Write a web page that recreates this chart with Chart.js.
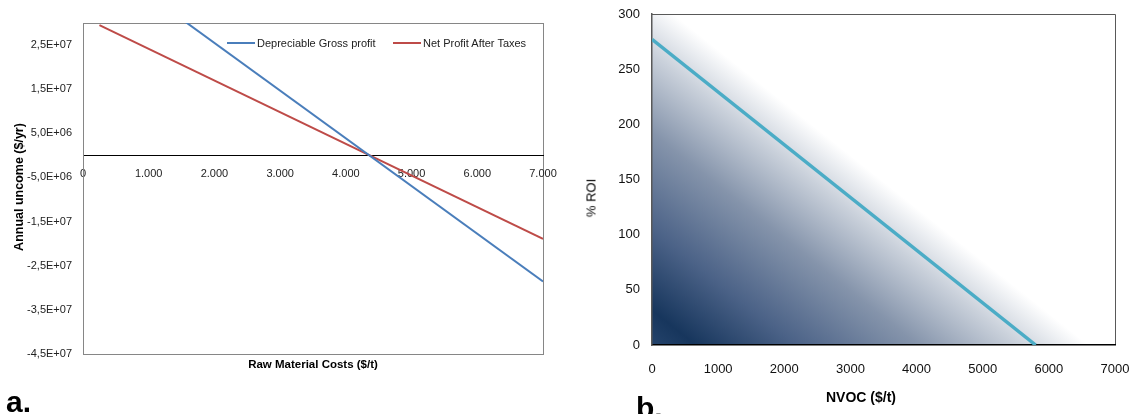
<!DOCTYPE html>
<html><head><meta charset="utf-8">
<script src="https://cdn.jsdelivr.net/npm/chart.js@4.4.1/dist/chart.umd.min.js"></script>
<style>
html,body{margin:0;padding:0;background:#fff;width:1131px;height:414px;overflow:hidden;position:relative;}
.box{position:absolute;}
.t{position:absolute;white-space:nowrap;color:#000;line-height:1;}
.rot{transform:translate(-50%,-50%) rotate(-90deg);}
.ctr{transform:translate(-50%,-50%);}
.leg{position:absolute;top:37px;height:13px;font:11px "Liberation Sans",sans-serif;color:#222;white-space:nowrap;}
.leg span.s{position:absolute;top:5px;height:2px;width:28px;}
</style></head><body>
<div class="box" style="left:0;top:0;width:560px;height:380px"><canvas id="ca"></canvas></div>
<div class="box" style="left:570px;top:0;width:561px;height:414px"><canvas id="cb"></canvas></div>

<div class="t rot" style="left:19px;top:187px;font:bold 12.5px 'Liberation Sans',sans-serif;">Annual uncome ($/yr)</div>
<div class="t ctr" style="left:313px;top:364px;font:bold 11.5px 'Liberation Sans',sans-serif;">Raw Material Costs ($/t)</div>
<div id="legendA"></div>
<div class="t rot" style="left:591px;top:198px;font:13px 'Liberation Sans',sans-serif;">% ROI</div>
<div class="t ctr" style="left:861px;top:397px;font:bold 14px 'Liberation Sans',sans-serif;">NVOC ($/t)</div>
<div class="t" style="left:6px;top:387px;font:bold 30px 'Liberation Sans',sans-serif;line-height:30px;">a.</div>
<div class="t" style="left:636px;top:393px;font:bold 30px 'Liberation Sans',sans-serif;line-height:30px;">b.</div>

<script>
// ---------- Chart a: annual income vs raw material cost ----------
const costX = [250, 7000];
const grossProfit = [4.44e7, -2.857e7];
const netProfit = [2.95e7, -1.893e7];
const seriesNamesA = ['Depreciable Gross profit', 'Net Profit After Taxes'];
const xTicksA = [0, 1000, 2000, 3000, 4000, 5000, 6000, 7000];
const xTickLabelsA = ['0', '1.000', '2.000', '3.000', '4.000', '5.000', '6.000', '7.000'];
const yTicksA = [-4.5e7, -3.5e7, -2.5e7, -1.5e7, -5e6, 5e6, 1.5e7, 2.5e7];
const yTickLabelsA = ['-4,5E+07', '-3,5E+07', '-2,5E+07', '-1,5E+07', '-5,0E+06', '5,0E+06', '1,5E+07', '2,5E+07'];

// ---------- Chart b: %ROI vs NVOC ----------
const nvocX = [0, 5800];
const roiY = [277, 0];
const xTicksB = [0, 1000, 2000, 3000, 4000, 5000, 6000, 7000];
const xTickLabelsB = ['0', '1000', '2000', '3000', '4000', '5000', '6000', '7000'];
const yTicksB = [0, 50, 100, 150, 200, 250, 300];
const yTickLabelsB = ['0', '50', '100', '150', '200', '250', '300'];

const pts = (xs, ys) => xs.map((x, i) => ({x: x, y: ys[i]}));
const FONT = "'Liberation Sans',sans-serif";

const frameA = {
  id: 'frameA',
  beforeDraw(chart) {
    const {ctx, chartArea: a} = chart;
    ctx.save();
    ctx.strokeStyle = '#868686';
    ctx.lineWidth = 1;
    ctx.strokeRect(Math.round(a.left) + 0.5, Math.round(a.top) + 0.5, Math.round(a.right - a.left), Math.round(a.bottom - a.top));
    ctx.restore();
  }
};

const colorsA = ['#4A7EBB', '#BE4B48'];
const chartA = new Chart(document.getElementById('ca'), {
  type: 'line',
  data: {
    datasets: [
      {label: seriesNamesA[0], data: pts(costX, grossProfit), borderColor: colorsA[0], backgroundColor: colorsA[0], borderWidth: 2, pointRadius: 0, tension: 0},
      {label: seriesNamesA[1], data: pts(costX, netProfit), borderColor: colorsA[1], backgroundColor: colorsA[1], borderWidth: 2, pointRadius: 0, tension: 0}
    ]
  },
  options: {
    responsive: true, maintainAspectRatio: false, animation: false,
    layout: {padding: {left: 0, right: 17, top: 23, bottom: 26}},
    plugins: {legend: {display: false}, tooltip: {enabled: false}},
    scales: {
      x: {
        type: 'linear', min: 0, max: 7000, position: {y: 0},
        grid: {display: false, drawTicks: false},
        border: {display: true, color: '#000', width: 1},
        afterBuildTicks: s => { s.ticks = xTicksA.map(v => ({value: v})); },
        afterFit: s => { s.paddingLeft = 0; s.paddingRight = 0; },
        ticks: {autoSkip: false, maxRotation: 0, padding: 12, color: '#222',
          font: {family: FONT, size: 11},
          callback: v => xTickLabelsA[xTicksA.indexOf(v)]}
      },
      y: {
        type: 'linear', min: -4.5e7, max: 3e7,
        grid: {display: false, drawTicks: false},
        border: {display: true, color: '#868686', width: 1},
        afterBuildTicks: s => { s.ticks = yTicksA.map(v => ({value: v})); },
        afterFit: s => { s.width = 83; s.paddingTop = 0; s.paddingBottom = 0; },
        ticks: {autoSkip: false, padding: 11, color: '#222',
          font: {family: FONT, size: 11},
          callback: v => yTickLabelsA[yTicksA.indexOf(v)]}
      }
    }
  },
  plugins: [frameA]
});

// HTML legend built from the chart's datasets
(function () {
  const host = document.getElementById('legendA');
  const lefts = [227, 393];
  chartA.data.datasets.forEach((ds, i) => {
    const d = document.createElement('div');
    d.className = 'leg';
    d.style.left = lefts[i] + 'px';
    d.innerHTML = '<span class="s" style="left:0;background:' + ds.borderColor + '"></span><span style="position:absolute;left:30px;top:0">' + ds.label + '</span>';
    host.appendChild(d);
  });
})();

const gradientB = {
  id: 'gradientB',
  beforeDraw(chart) {
    const {ctx, chartArea: a, scales: {x, y}} = chart;
    const x0 = x.getPixelForValue(0), y0 = y.getPixelForValue(0);
    const p1x = x.getPixelForValue(nvocX[0]), p1y = y.getPixelForValue(roiY[0]);
    const p2x = x.getPixelForValue(nvocX[1]), p2y = y.getPixelForValue(roiY[1]);
    const dx = p2x - p1x, dy = p2y - p1y, len = Math.hypot(dx, dy);
    const nx = dy / len, ny = -dx / len;
    const ex = x.getPixelForValue(6600);
    const L = (ex - x0) * nx;
    const g = ctx.createLinearGradient(x0, y0, x0 + nx * L, y0 + ny * L);
    g.addColorStop(0, '#24436b');
    g.addColorStop(0.1, '#17365D');
    g.addColorStop(0.33, '#4b6287');
    g.addColorStop(0.61, '#8594ab');
    g.addColorStop(0.84, '#cad1db');
    g.addColorStop(1, '#ffffff');
    ctx.save();
    ctx.fillStyle = g;
    ctx.fillRect(a.left, a.top, a.right - a.left, a.bottom - a.top);
    ctx.strokeStyle = '#595959';
    ctx.lineWidth = 1;
    ctx.beginPath();
    ctx.moveTo(Math.round(a.left), Math.round(a.top) + 0.5);
    ctx.lineTo(Math.round(a.right) + 0.5, Math.round(a.top) + 0.5);
    ctx.lineTo(Math.round(a.right) + 0.5, Math.round(a.bottom));
    ctx.stroke();
    ctx.restore();
  }
};

const chartB = new Chart(document.getElementById('cb'), {
  type: 'line',
  data: {
    datasets: [
      {label: '% ROI', data: pts(nvocX, roiY), borderColor: '#4BACC6', backgroundColor: '#4BACC6', borderWidth: 3.5, pointRadius: 0, tension: 0}
    ]
  },
  options: {
    responsive: true, maintainAspectRatio: false, animation: false,
    layout: {padding: {left: 0, right: 16, top: 14, bottom: 0}},
    plugins: {legend: {display: false}, tooltip: {enabled: false}},
    scales: {
      x: {
        type: 'linear', min: 0, max: 7000,
        grid: {display: false, drawTicks: false},
        border: {display: true, color: '#000', width: 1.5},
        afterBuildTicks: s => { s.ticks = xTicksB.map(v => ({value: v})); },
        afterFit: s => { s.height = 69; s.paddingLeft = 0; s.paddingRight = 0; },
        ticks: {autoSkip: false, maxRotation: 0, padding: 17, color: '#111',
          font: {family: FONT, size: 13},
          callback: v => xTickLabelsB[xTicksB.indexOf(v)]}
      },
      y: {
        type: 'linear', min: 0, max: 300,
        grid: {display: false, drawTicks: false},
        border: {display: true, color: '#595959', width: 1.5},
        afterBuildTicks: s => { s.ticks = yTicksB.map(v => ({value: v})); },
        afterFit: s => { s.width = 82; s.paddingTop = 0; s.paddingBottom = 0; },
        ticks: {autoSkip: false, padding: 12, color: '#111',
          font: {family: FONT, size: 13},
          callback: v => yTickLabelsB[yTicksB.indexOf(v)]}
      }
    }
  },
  plugins: [gradientB]
});
</script>
</body></html>
